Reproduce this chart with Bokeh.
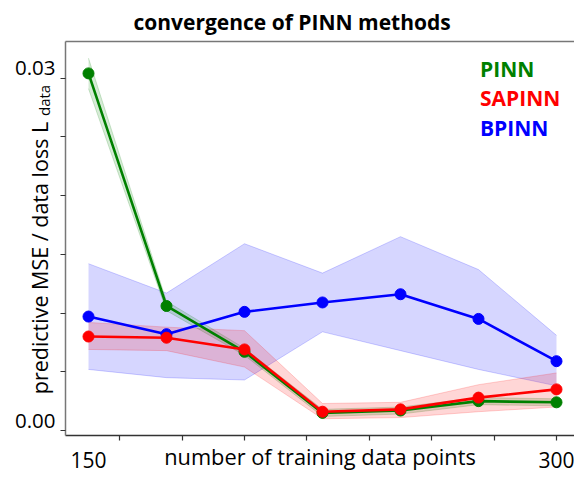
from math import pi
from bokeh.plotting import figure
from bokeh.models import (Range1d, FixedTicker, LinearAxis, Label, Legend, LegendItem,
                          PrintfTickFormatter, Grid)
from bokeh.embed import file_html
from bokeh.resources import INLINE

# ---- data ----
n_points = [150, 175, 200, 225, 250, 275, 300]

pinn_mean = [0.0304, 0.0106, 0.0067, 0.0015, 0.0017, 0.0025, 0.0024]
pinn_lo = [0.0291, 0.0102, 0.0064, 0.0012, 0.0014, 0.0022, 0.0021]
pinn_hi = [0.0317, 0.0110, 0.0070, 0.0018, 0.0020, 0.0028, 0.0027]

sapinn_mean = [0.0080, 0.0079, 0.0069, 0.0016, 0.0018, 0.0028, 0.0035]
sapinn_lo = [0.0069, 0.0068, 0.0054, 0.0010, 0.0011, 0.0016, 0.0020]
sapinn_hi = [0.0092, 0.0088, 0.0085, 0.0023, 0.0024, 0.0039, 0.0049]

bpinn_mean = [0.0097, 0.0082, 0.0101, 0.0109, 0.0116, 0.0095, 0.0059]
bpinn_lo = [0.0052, 0.0045, 0.0043, 0.0084, 0.0068, 0.0052, 0.0038]
bpinn_hi = [0.0142, 0.0117, 0.0159, 0.0134, 0.0165, 0.0137, 0.0081]

x_labelled_ticks = [150, 300]
x_minor_ticks = [160, 180, 200, 220, 240, 260, 280, 300]
# tick labels sit slightly above their tick marks in the reference
y_labelled_ticks = [0.00085, 0.03085]
y_minor_ticks = [0.0, 0.005, 0.01, 0.015, 0.02, 0.025, 0.03]

series = [
    ("PINN", pinn_mean, pinn_lo, pinn_hi, "green"),
    ("SAPINN", sapinn_mean, sapinn_lo, sapinn_hi, "red"),
    ("BPINN", bpinn_mean, bpinn_lo, bpinn_hi, "blue"),
]

FONT = "Open Sans"

p = figure(width=574, height=480, output_backend="svg", toolbar_location=None,
           x_range=Range1d(142.63, 305.77), y_range=Range1d(-0.000425, 0.033115),
           min_border_left=65, min_border_right=0, min_border_top=40, min_border_bottom=45,
           x_axis_location=None, y_axis_location=None)
p.outline_line_color = None
p.background_fill_color = "white"
p.border_fill_color = "white"
for r in p.center:
    if isinstance(r, Grid):
        r.visible = False

# title
p.title.text = "convergence of PINN methods"
p.title.align = "left"
p.title.offset = 68
p.title.text_font = FONT
p.title.text_font_style = "bold"
p.title.text_font_size = "21px"
p.title.text_color = "black"
p.title.standoff = 11

# axes
xaxis = LinearAxis(ticker=FixedTicker(ticks=x_labelled_ticks, minor_ticks=x_minor_ticks),
                   major_label_text_font=FONT, major_label_text_font_size="21px",
                   major_label_text_color="black", major_label_standoff=11,
                   major_tick_out=0, major_tick_in=0, minor_tick_out=5, minor_tick_in=0,
                   axis_line_color="#333333", axis_line_width=1.5,
                   minor_tick_line_color="#333333", minor_tick_line_width=1.2,
                   axis_label="number of training data points", axis_label_standoff=-29,
                   axis_label_text_font=FONT, axis_label_text_font_size="21.8px",
                   axis_label_text_font_style="normal", axis_label_text_color="black")
p.add_layout(xaxis, "below")

yaxis = LinearAxis(ticker=FixedTicker(ticks=y_labelled_ticks, minor_ticks=y_minor_ticks),
                   formatter=PrintfTickFormatter(format="%.2f"),
                   major_label_text_font=FONT, major_label_text_font_size="20.5px",
                   major_label_text_color="black", major_label_standoff=5,
                   major_tick_out=0, major_tick_in=0, minor_tick_out=5, minor_tick_in=0,
                   axis_line_color="#777777", axis_line_width=1.5,
                   minor_tick_line_color="#333333", minor_tick_line_width=1.2,
                   axis_label="predictive MSE / data loss  L      ", axis_label_standoff=-42,
                   axis_label_text_font=FONT, axis_label_text_font_size="21.5px",
                   axis_label_text_font_style="normal", axis_label_text_color="black")
p.add_layout(yaxis, "left")

topaxis = LinearAxis(ticker=FixedTicker(ticks=[]),
                     major_tick_out=0, major_tick_in=0, minor_tick_out=0, minor_tick_in=0,
                     major_label_standoff=0, axis_line_color="#777777", axis_line_width=1.5)
p.add_layout(topaxis, "above")

# subscript of the y label
p.add_layout(Label(x=135.74, y=0.02810, x_units="data", y_units="data",
                   text="data", angle=pi / 2, text_align="center", text_baseline="middle",
                   text_font=FONT, text_font_size="15px", text_color="black"), "left")

# bands
for name, m, lo, hi, col in [series[2], series[0], series[1]]:
    p.varea(x=n_points, y1=lo, y2=hi, fill_color=col, fill_alpha=0.16)
    p.line(x=n_points, y=lo, line_color=col, line_alpha=0.18, line_width=1)
    p.line(x=n_points, y=hi, line_color=col, line_alpha=0.18, line_width=1)

# lines + markers (blue, green, red order)
for name, m, lo, hi, col in [series[2], series[0], series[1]]:
    p.line(x=n_points, y=m, line_color=col, line_width=2.6)
    p.scatter(x=n_points, y=m, size=11, fill_color=col, line_color=col)

# legends (one per entry so label colours differ)
leg_y = {"PINN": 352, "SAPINN": 323, "BPINN": 293}
for name, m, lo, hi, col in series:
    proxy = p.line(x=[], y=[], line_color=col, line_width=4)
    leg = Legend(items=[LegendItem(label=name, renderers=[proxy])], location=(362, leg_y[name]),
                 border_line_color=None, background_fill_alpha=0, padding=0, margin=0,
                 glyph_width=37, glyph_height=20, label_height=20, label_standoff=16,
                 label_text_font=FONT, label_text_font_style="bold", label_text_font_size="21px",
                 label_text_color=col, spacing=0)
    p.add_layout(leg)

open("out.html", "w").write(file_html(p, INLINE))
